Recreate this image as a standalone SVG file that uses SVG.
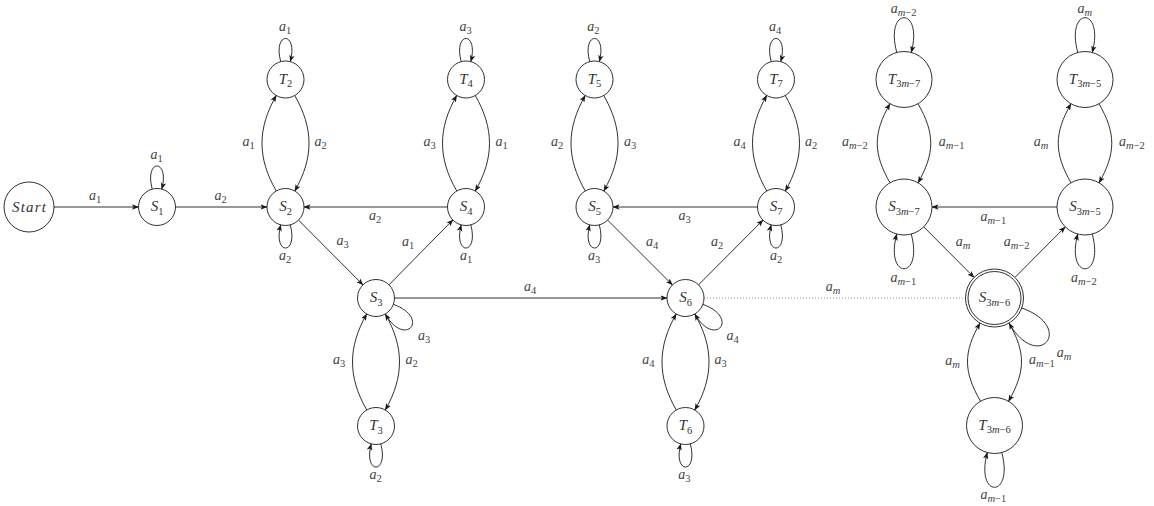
<svg xmlns="http://www.w3.org/2000/svg" width="1154" height="506" viewBox="0 0 1154 506">
<defs>
<style>
.n{fill:#fff;stroke:#1a1a1a;stroke-width:0.9}
.e{fill:none;stroke:#1a1a1a;stroke-width:0.9;marker-end:url(#arr)}
.d{fill:none;stroke:#8c8c8c;stroke-width:0.9;stroke-dasharray:1 2}
.nl{font-family:'Liberation Serif','DejaVu Serif',serif;font-size:15px;font-style:italic;fill:#333;text-anchor:middle}
.el{font-family:'Liberation Serif','DejaVu Serif',serif;font-size:14px;font-style:italic;fill:#444;text-anchor:middle}
.s{font-size:10.5px;font-style:normal}
.i{font-style:italic}
</style>
<marker id="arr" viewBox="0 0 7 6" refX="6.5" refY="3" markerWidth="7" markerHeight="6" markerUnits="userSpaceOnUse" orient="auto">
<path d="M0,0.3 L7,3 L0,5.7 L1.6,3 z" fill="#1a1a1a"/>
</marker>
</defs>
<rect width="1154" height="506" fill="#fff"/>

<g id="connectors">
<path class="e" d="M54,207 L138.5,207"/>
<path class="e" d="M152.21,189.13 C143.92,158.22 170.08,158.22 161.79,189.13"/>
<path class="e" d="M175.5,207 L267,207"/>
<path class="e" d="M280.71,61.63 C272.42,30.72 298.58,30.72 290.29,61.63"/>
<path class="e" d="M276.25,190.98 C257.25,158.07 257.25,128.43 276.25,95.52"/>
<path class="e" d="M294.75,95.52 C313.75,128.43 313.75,158.07 294.75,190.98"/>
<path class="e" d="M290.29,224.87 C298.58,255.78 272.42,255.78 280.71,224.87"/>
<path class="e" d="M447.5,207 L304,207"/>
<path class="e" d="M298.5,220.1 L363,284.9"/>
<path class="e" d="M389,284.8 L453,219.8"/>
<path class="e" d="M461.21,61.63 C452.92,30.72 479.08,30.72 470.79,61.63"/>
<path class="e" d="M456.75,190.98 C437.75,158.07 437.75,128.43 456.75,95.52"/>
<path class="e" d="M475.25,95.52 C494.25,128.43 494.25,158.07 475.25,190.98"/>
<path class="e" d="M470.79,224.87 C479.08,255.78 452.92,255.78 461.21,224.87"/>
<path class="e" d="M394.5,298 L667,298"/>
<path class="e" d="M393.38,304.33 C430.97,318.01 405.25,348.66 385.25,314.02"/>
<path class="e" d="M366.75,409.98 C347.75,377.07 347.75,346.93 366.75,314.02"/>
<path class="e" d="M385.25,314.02 C404.25,346.93 404.25,377.07 385.25,409.98"/>
<path class="e" d="M380.79,443.87 C389.08,474.78 362.92,474.78 371.21,443.87"/>
<path class="e" d="M589.71,61.63 C581.42,30.72 607.58,30.72 599.29,61.63"/>
<path class="e" d="M585.25,190.98 C566.25,158.07 566.25,128.43 585.25,95.52"/>
<path class="e" d="M603.75,95.52 C622.75,128.43 622.75,158.07 603.75,190.98"/>
<path class="e" d="M599.29,224.87 C607.58,255.78 581.42,255.78 589.71,224.87"/>
<path class="e" d="M757.5,207 L613,207"/>
<path class="e" d="M607.6,220.1 L672.4,284.9"/>
<path class="e" d="M698.5,284.9 L763,220.1"/>
<path class="e" d="M771.21,61.63 C762.92,30.72 789.08,30.72 780.79,61.63"/>
<path class="e" d="M766.75,190.98 C747.75,158.07 747.75,128.43 766.75,95.52"/>
<path class="e" d="M785.25,95.52 C804.25,128.43 804.25,158.07 785.25,190.98"/>
<path class="e" d="M780.79,224.87 C789.08,255.78 762.92,255.78 771.21,224.87"/>
<path class="e" d="M702.88,304.33 C740.47,318.01 714.75,348.66 694.75,314.02"/>
<path class="e" d="M676.25,409.98 C657.25,377.07 657.25,346.93 676.25,314.02"/>
<path class="e" d="M694.75,314.02 C713.75,346.93 713.75,377.07 694.75,409.98"/>
<path class="e" d="M690.29,443.87 C698.58,474.78 672.42,474.78 680.71,443.87"/>
<path class="d" d="M704,298 L965.5,298"/>
<path class="e" d="M896.75,52.45 C884.32,6.08 923.68,6.08 911.25,52.45"/>
<path class="e" d="M890,182.75 C873,153.31 873,133.19 890,103.75"/>
<path class="e" d="M918,103.75 C935,133.19 935,153.31 918,182.75"/>
<path class="e" d="M911.25,234.05 C923.68,280.42 884.32,280.42 896.75,234.05"/>
<path class="e" d="M1077.75,52.45 C1065.32,6.08 1104.68,6.08 1092.25,52.45"/>
<path class="e" d="M1071,182.75 C1054,153.31 1054,133.19 1071,103.75"/>
<path class="e" d="M1099,103.75 C1116,133.19 1116,153.31 1099,182.75"/>
<path class="e" d="M1092.25,234.05 C1104.68,280.42 1065.32,280.42 1077.75,234.05"/>
<path class="e" d="M1057,207 L932,207"/>
<path class="e" d="M923.75,226.86 L974.05,277.44"/>
<path class="e" d="M1014.95,277.43 L1065.25,226.86"/>
<path class="e" d="M1021.75,307.92 C1076.25,327.76 1038,373.34 1009,323.11"/>
<path class="e" d="M980.5,401.25 C963.5,371.81 963,352.55 980,323.11"/>
<path class="e" d="M1009,323.11 C1026,352.55 1025.5,371.81 1008.5,401.25"/>
<path class="e" d="M1001.75,452.55 C1014.18,498.92 974.82,498.92 987.25,452.55"/>
</g>

<g id="edge-labels">
<text class="el" x="95" y="200">a<tspan class="s" dy="3">1</tspan></text>
<text class="el" x="156.5" y="159">a<tspan class="s" dy="3">1</tspan></text>
<text class="el" x="220.7" y="200">a<tspan class="s" dy="3">2</tspan></text>
<text class="el" x="285" y="31">a<tspan class="s" dy="3">1</tspan></text>
<text class="el" x="248.5" y="146">a<tspan class="s" dy="3">1</tspan></text>
<text class="el" x="320.5" y="146">a<tspan class="s" dy="3">2</tspan></text>
<text class="el" x="285" y="260">a<tspan class="s" dy="3">2</tspan></text>
<text class="el" x="342.5" y="245">a<tspan class="s" dy="3">3</tspan></text>
<text class="el" x="375" y="220">a<tspan class="s" dy="3">2</tspan></text>
<text class="el" x="408" y="246">a<tspan class="s" dy="3">1</tspan></text>
<text class="el" x="465.5" y="31">a<tspan class="s" dy="3">3</tspan></text>
<text class="el" x="429.7" y="146">a<tspan class="s" dy="3">3</tspan></text>
<text class="el" x="501.5" y="146">a<tspan class="s" dy="3">1</tspan></text>
<text class="el" x="466" y="260">a<tspan class="s" dy="3">1</tspan></text>
<text class="el" x="530" y="291">a<tspan class="s" dy="3">4</tspan></text>
<text class="el" x="424" y="340">a<tspan class="s" dy="3">3</tspan></text>
<text class="el" x="339" y="364">a<tspan class="s" dy="3">3</tspan></text>
<text class="el" x="411.7" y="364">a<tspan class="s" dy="3">2</tspan></text>
<text class="el" x="375.7" y="479">a<tspan class="s" dy="3">2</tspan></text>
<text class="el" x="593.3" y="31">a<tspan class="s" dy="3">2</tspan></text>
<text class="el" x="557" y="146">a<tspan class="s" dy="3">2</tspan></text>
<text class="el" x="630" y="146">a<tspan class="s" dy="3">3</tspan></text>
<text class="el" x="594" y="260">a<tspan class="s" dy="3">3</tspan></text>
<text class="el" x="684.7" y="220">a<tspan class="s" dy="3">3</tspan></text>
<text class="el" x="652" y="246">a<tspan class="s" dy="3">4</tspan></text>
<text class="el" x="717" y="246">a<tspan class="s" dy="3">2</tspan></text>
<text class="el" x="775" y="31">a<tspan class="s" dy="3">4</tspan></text>
<text class="el" x="739.5" y="146">a<tspan class="s" dy="3">4</tspan></text>
<text class="el" x="811" y="146">a<tspan class="s" dy="3">2</tspan></text>
<text class="el" x="776" y="260">a<tspan class="s" dy="3">2</tspan></text>
<text class="el" x="732.7" y="340">a<tspan class="s" dy="3">4</tspan></text>
<text class="el" x="648.3" y="364">a<tspan class="s" dy="3">4</tspan></text>
<text class="el" x="720.7" y="364">a<tspan class="s" dy="3">3</tspan></text>
<text class="el" x="684.3" y="479">a<tspan class="s" dy="3">3</tspan></text>
<text class="el" x="833" y="291">a<tspan class="s i" dy="3">m</tspan></text>
<text class="el" x="903.7" y="12.5">a<tspan class="s" dy="3"><tspan class="i">m</tspan>−2</tspan></text>
<text class="el" x="1084.7" y="12.5">a<tspan class="s i" dy="3">m</tspan></text>
<text class="el" x="855" y="146">a<tspan class="s" dy="3"><tspan class="i">m</tspan>−2</tspan></text>
<text class="el" x="951.7" y="146">a<tspan class="s" dy="3"><tspan class="i">m</tspan>−1</tspan></text>
<text class="el" x="1041" y="146">a<tspan class="s i" dy="3">m</tspan></text>
<text class="el" x="1132" y="146">a<tspan class="s" dy="3"><tspan class="i">m</tspan>−2</tspan></text>
<text class="el" x="993.3" y="221">a<tspan class="s" dy="3"><tspan class="i">m</tspan>−1</tspan></text>
<text class="el" x="963" y="246">a<tspan class="s i" dy="3">m</tspan></text>
<text class="el" x="1016.7" y="246">a<tspan class="s" dy="3"><tspan class="i">m</tspan>−2</tspan></text>
<text class="el" x="903.3" y="282">a<tspan class="s" dy="3"><tspan class="i">m</tspan>−1</tspan></text>
<text class="el" x="1084" y="282">a<tspan class="s" dy="3"><tspan class="i">m</tspan>−2</tspan></text>
<text class="el" x="1064" y="357">a<tspan class="s i" dy="3">m</tspan></text>
<text class="el" x="952.5" y="365">a<tspan class="s i" dy="3">m</tspan></text>
<text class="el" x="1042" y="364">a<tspan class="s" dy="3"><tspan class="i">m</tspan>−1</tspan></text>
<text class="el" x="993.3" y="499">a<tspan class="s" dy="3"><tspan class="i">m</tspan>−1</tspan></text>
</g>

<g id="node-start"><circle class="n" cx="29" cy="207" r="25"/><text class="nl" x="29" y="212" textLength="34" lengthAdjust="spacing">Start</text></g>
<g id="node-S1"><circle class="n" cx="157" cy="207" r="18.5"/><text class="nl" x="157" y="211">S<tspan class="s" dy="3.5">1</tspan></text></g>
<g id="node-S2"><circle class="n" cx="285.5" cy="207" r="18.5"/><text class="nl" x="285.5" y="211">S<tspan class="s" dy="3.5">2</tspan></text></g>
<g id="node-T2"><circle class="n" cx="285.5" cy="79.5" r="18.5"/><text class="nl" x="285.5" y="83.5">T<tspan class="s" dy="3.5">2</tspan></text></g>
<g id="node-S3"><circle class="n" cx="376" cy="298" r="18.5"/><text class="nl" x="376" y="302">S<tspan class="s" dy="3.5">3</tspan></text></g>
<g id="node-T3"><circle class="n" cx="376" cy="426" r="18.5"/><text class="nl" x="376" y="430">T<tspan class="s" dy="3.5">3</tspan></text></g>
<g id="node-S4"><circle class="n" cx="466" cy="207" r="18.5"/><text class="nl" x="466" y="211">S<tspan class="s" dy="3.5">4</tspan></text></g>
<g id="node-T4"><circle class="n" cx="466" cy="79.5" r="18.5"/><text class="nl" x="466" y="83.5">T<tspan class="s" dy="3.5">4</tspan></text></g>
<g id="node-S5"><circle class="n" cx="594.5" cy="207" r="18.5"/><text class="nl" x="594.5" y="211">S<tspan class="s" dy="3.5">5</tspan></text></g>
<g id="node-T5"><circle class="n" cx="594.5" cy="79.5" r="18.5"/><text class="nl" x="594.5" y="83.5">T<tspan class="s" dy="3.5">5</tspan></text></g>
<g id="node-S6"><circle class="n" cx="685.5" cy="298" r="18.5"/><text class="nl" x="685.5" y="302">S<tspan class="s" dy="3.5">6</tspan></text></g>
<g id="node-T6"><circle class="n" cx="685.5" cy="426" r="18.5"/><text class="nl" x="685.5" y="430">T<tspan class="s" dy="3.5">6</tspan></text></g>
<g id="node-S7"><circle class="n" cx="776" cy="207" r="18.5"/><text class="nl" x="776" y="211">S<tspan class="s" dy="3.5">7</tspan></text></g>
<g id="node-T7"><circle class="n" cx="776" cy="79.5" r="18.5"/><text class="nl" x="776" y="83.5">T<tspan class="s" dy="3.5">7</tspan></text></g>
<g id="node-T3m-7"><circle class="n" cx="904" cy="79.5" r="28"/><text class="nl" x="904" y="83.5">T<tspan class="s" dy="3.5">3<tspan class="i">m</tspan>−7</tspan></text></g>
<g id="node-S3m-7"><circle class="n" cx="904" cy="207" r="28"/><text class="nl" x="904" y="211">S<tspan class="s" dy="3.5">3<tspan class="i">m</tspan>−7</tspan></text></g>
<g id="node-T3m-5"><circle class="n" cx="1085" cy="79.5" r="28"/><text class="nl" x="1085" y="83.5">T<tspan class="s" dy="3.5">3<tspan class="i">m</tspan>−5</tspan></text></g>
<g id="node-S3m-5"><circle class="n" cx="1085" cy="207" r="28"/><text class="nl" x="1085" y="211">S<tspan class="s" dy="3.5">3<tspan class="i">m</tspan>−5</tspan></text></g>
<g id="node-S3m-6"><circle class="n" cx="994.5" cy="298" r="29"/><circle class="n" cx="994.5" cy="298" r="26.5"/><text class="nl" x="994.5" y="302">S<tspan class="s" dy="3.5">3<tspan class="i">m</tspan>−6</tspan></text></g>
<g id="node-T3m-6"><circle class="n" cx="994.5" cy="425.5" r="28"/><text class="nl" x="994.5" y="429.5">T<tspan class="s" dy="3.5">3<tspan class="i">m</tspan>−6</tspan></text></g>
</svg>
